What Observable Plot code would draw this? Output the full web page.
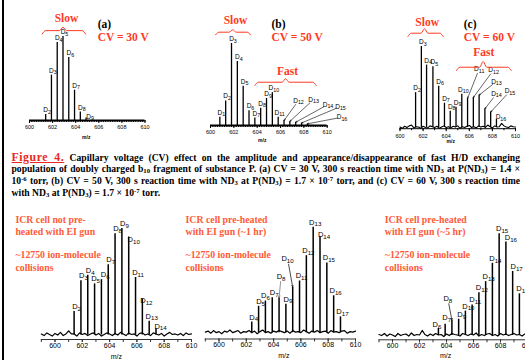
<!DOCTYPE html>
<html><head><meta charset="utf-8">
<script src="https://cdn.jsdelivr.net/npm/d3@7"></script>
<script src="https://cdn.jsdelivr.net/npm/@observablehq/plot@0.6"></script>
<style>
html,body{margin:0;padding:0;background:#fff;overflow:hidden;}
#page{position:relative;width:525px;height:360px;overflow:hidden;background:#fff;}
.panel{position:absolute;}
#border{position:absolute;left:2.4px;top:0;width:1.3px;height:360px;background:#000;}
#cap{position:absolute;left:11.5px;top:150.5px;width:508.5px;font-family:"Liberation Serif","Times New Roman",serif;font-weight:bold;font-size:9.65px;line-height:12px;color:#000;}
#cap .ln{text-align:justify;text-align-last:justify;white-space:nowrap;height:12px;}
#cap .ln.last{text-align-last:left;}
#cap sub{font-size:0.7em;line-height:0;vertical-align:-0.2em;}
#cap sup{font-size:0.7em;line-height:0;vertical-align:0.4em;}
#cap .fig{color:#e8281e;font-size:11.8px;letter-spacing:0.55px;text-decoration:underline;}
</style></head>
<body>
<div id="page">
<div id="border"></div>
<div id="cap">
<div class="ln"><span class="fig">Figure 4.</span> Capillary voltage (CV) effect on the amplitude and appearance/disappearance of fast H/D exchanging</div>
<div class="ln">population of doubly charged b<sub>10</sub> fragment of substance P. (a) CV = 30 V, 300 s reaction time with ND<sub>3</sub> at P(ND<sub>3</sub>) = 1.4 ×</div>
<div class="ln">10<sup>-6</sup> torr, (b) CV = 50 V, 300 s reaction time with ND<sub>3</sub> at P(ND<sub>3</sub>) = 1.7 × 10<sup>-7</sup> torr, and (c) CV = 60 V, 300 s reaction time</div>
<div class="ln last">with ND<sub>3</sub> at P(ND<sub>3</sub>) = 1.7 × 10<sup>-7</sup> torr.</div>
</div>
</div>
<script>
// ================= DATA =================
const tickLabels = [600, 602, 604, 606, 608, 610];
const unitTicks = [599, 600, 601, 602, 603, 604, 605, 606, 607, 608, 609, 610];
const axisTitle = "m/z";
const cvLabels = ["CV = 30 V", "CV = 50 V", "CV = 60 V"];
const panelTags = ["(a)", "(b)", "(c)"];
const groupLabels = ["Slow", "Fast"];
const noteD = ["ICR cell not pre-", "heated with EI gun", "~12750 ion-molecule", "collisions"];
const noteE = ["ICR cell pre-heated", "with EI gun (~1 hr)", "~12750 ion-molecule", "collisions"];
const noteF = ["ICR cell pre-heated", "with EI gun (~5 hr)", "~12750 ion-molecule", "collisions"];

// (a) CV = 30 V
const mzA  = [601.4, 601.9, 602.4, 602.9, 603.4, 603.9, 604.4, 604.9];
const intA = [7, 54, 93, 100, 75, 36, 10, 3];
const ionA = [2, 3, 4, 5, 6, 7, 8, 9];

// (b) CV = 50 V
const mzB  = [600.8, 601.3, 601.8, 602.3, 602.8, 603.3, 603.8, 604.3, 604.8, 605.3, 605.8, 606.3, 606.8, 607.3, 607.8, 608.3];
const intB = [10, 30, 100, 78, 48, 18, 9, 21, 33, 40, 10, 6, 5, 4, 3, 2];
const ionB = [1, 2, 3, 4, 5, 6, 7, 8, 9, 10, 11, 12, 13, 14, 15, 16];

// (c) CV = 60 V
const mzC  = [601.35, 601.85, 602.3, 602.85, 603.35, 603.85, 604.35, 604.85, 605.35, 605.85, 606.35, 606.85, 607.35, 607.85, 608.35];
const intC = [43, 100, 77, 75, 51, 30, 20, 25, 41, 36, 37, 40, 23, 19, 10];
const ionC = [2, 3, 4, 5, 6, 7, 8, 9, 10, 11, 12, 13, 14, 15, 16];
const noiseC = [0.5,-1,1.5,0,2,3,-0.5,1,0.5,-1,
  1.5,0,-0.5,2,1,0,1.5,-1,0.5,2,
  0,1,-0.5,1.5,0.5,2,-1,1,0,1.5,
  2.5,0,1,-0.5,2,0.5,1.5,0,3,1,
  -0.5,2,0.5,1,5,2,0.5,0,2,1,0.5];

// bottom left: not pre-heated
const mzD  = [601.4, 601.9, 602.4, 602.9, 603.4, 603.9, 604.4, 604.9, 605.4, 605.9, 606.4, 606.9, 607.4];
const intD = [22, 51, 56, 48, 52, 66, 95, 100, 92, 54, 34, 13, 6];
const ionD = [2, 3, 4, 5, 6, 7, 8, 9, 10, 11, 12, 13, 14];
const noiseD = [1,-0.5,2,0.5,-1,1.5,0,2.5,-0.5,1,
  4,1,1,-1,2,0.5,1.5,-0.5,1,2,
  0,1.5,-1,0.5,2,1,-0.5,1.5,0,2.5,
  1,-0.5,2,0.5,1,-1,1.5,2,0,1,
  -0.5,2,1,0,1.5,-1,1,2.5,0.5,1,
  0,1.5,-0.5,2,0.5,1];

// bottom middle: pre-heated ~1 hr
const mzE  = [602.4, 602.9, 603.4, 603.9, 604.4, 604.9, 605.4, 605.9, 606.4, 606.9, 607.4, 607.9, 608.4, 608.9];
const intE = [10, 25, 30, 33, 33, 27, 43, 49, 73, 100, 91, 66, 35, 15];
const ionE = [4, 5, 6, 7, 8, 9, 10, 11, 12, 13, 14, 15, 16, 17];
const noiseE = [0.5,1.5,-0.5,2,0,1,-1,1.5,0.5,2.5,
  0,1,2,-0.5,1,0.5,2,0,1.5,-1,
  1,2.5,0,1,-0.5,1.5,0.5,2,1,0,
  1.5,-0.5,2,0.5,1,0,2.5,1,-0.5,1.5,
  0.5,2,0,1,1.5,-0.5,2,0.5,1,0,
  1.5,2,-0.5,1,0.5,1.5];

// bottom right: pre-heated ~5 hr
const mzF  = [603.4, 603.9, 604.4, 604.9, 605.4, 605.9, 606.4, 606.9, 607.4, 607.9, 608.4, 608.9, 609.4];
const intF = [7, 11, 15, 16, 24, 30, 42, 53, 71, 100, 92, 63, 41];
const ionF = [6, 7, 8, 9, 10, 11, 12, 13, 14, 15, 16, 17, 18];
const noiseF = [1,0,2,-0.5,1.5,0.5,-1,2,0,1,
  1.5,-0.5,2.5,0,1,0.5,5,1,-0.5,1.5,
  0,2,0.5,1,-1,1.5,0,2,1,0.5,
  -0.5,2,1,0,1.5,0.5,2.5,-0.5,1,0,
  1.5,2,0,1,-0.5,2,0.5,1.5,0,1,
  2,0.5,1,-0.5,1.5,0.5];

// ================= HELPERS =================
const SANS = "'Liberation Sans', Arial, Helvetica, sans-serif";
const SERIF = "'Liberation Serif', 'Times New Roman', serif";
const RED = "#ff3a22", ORANGE = "#ff5a3a";
const dLabel = n => "D_" + n;
const peaks = (mz, it, ion) => mz.map((m, i) => ({mz: m, int: it[i], ion: ion[i]}));
const noise = (start, step, vals) => vals.map((v, i) => ({mz: +(start + i * step).toFixed(3), int: v}));

function txt(x, y, t, o = {}) {
  return Plot.text([{x, y, t}], {x: "x", y: "y", text: "t", fill: o.fill || "black",
    textAnchor: o.anchor || "start", fontSize: o.size || 11.5, fontFamily: SERIF, fontWeight: "bold"});
}
function brace(x0, x1, xm, yHook, yTop, yPeak, d) {
  const pts = [{x: x0, y: yHook}, {x: x0 + d, y: yTop}, {x: xm - d, y: yTop}, {x: xm, y: yPeak},
               {x: xm + d, y: yTop}, {x: x1 - d, y: yTop}, {x: x1, y: yHook}];
  return Plot.line(pts, {x: "x", y: "y", stroke: RED, strokeWidth: 1, curve: "monotone-x"});
}
function peakMarks(rows, o) {
  const skip = o.skip || [];
  const off = o.off || {};
  const marks = [Plot.ruleX(rows, {x: "mz", y1: () => 0, y2: "int", stroke: "black", strokeWidth: o.sw})];
  const plain = rows.filter(r => !skip.includes(r.ion) && !(r.ion in off));
  marks.push(Plot.text(plain, {x: "mz", y: "int", text: r => dLabel(r.ion), fontSize: o.fs, fontFamily: SANS,
    fill: "black", dx: o.dx, dy: o.dy, lineAnchor: "middle"}));
  for (const k of Object.keys(off)) {
    const r = rows.filter(r => r.ion === +k);
    marks.push(Plot.text(r, {x: "mz", y: "int", text: r => dLabel(r.ion), fontSize: o.fs, fontFamily: SANS,
      fill: "black", dx: off[k][0], dy: off[k][1], lineAnchor: "middle"}));
  }
  return marks;
}
function leaders(rows, list, o) {
  const byIon = new Map(rows.map(r => [r.ion, r]));
  const data = list.map(l => ({...l, px: byIon.get(l.ion).mz, py: byIon.get(l.ion).int}));
  return [
    Plot.arrow(data, {x1: "x", y1: "y", x2: "px", y2: "py", stroke: o.stroke || "black", strokeWidth: o.sw || 0.6,
      headLength: o.head || 3, insetStart: o.inset || 4, insetEnd: 0.5}),
    Plot.text(data, {x: "x", y: "y", text: d => dLabel(d.ion), fontSize: o.fs, fontFamily: SANS, fill: "black", lineAnchor: "middle"})
  ];
}
function topAxis(minor) {
  return [
    Plot.axisX(minor, {tickSize: 2, tickFormat: () => "", label: null}),
    Plot.axisX(tickLabels, {tickSize: 3, tickPadding: 2, fontSize: 5.5, fontFamily: SANS, label: null, tickFormat: d => String(d)})
  ];
}
function bottomAxis(ymin) {
  return [
    Plot.ruleY([ymin], {stroke: "#333", strokeWidth: 1}),
    Plot.axisX(unitTicks, {tickSize: 3, tickFormat: () => "", label: null, stroke: "#333"}),
    Plot.axisX(tickLabels, {tickSize: 3, tickPadding: 0.5, fontSize: 7, fontFamily: SANS, label: null, tickFormat: d => String(d), stroke: "#333"})
  ];
}
function mzTitle(dx, dy, size, weight) {
  return Plot.text([axisTitle], {text: d => d, frameAnchor: "bottom", dx, dy, fontSize: size, fontFamily: SANS, fontWeight: weight, fill: "black"});
}
function notes(lines, x, ys) {
  return lines.map((t, i) => txt(x, ys[i], t, {fill: ORANGE, size: 9.8}));
}
// turn "D_12" into D with a real subscript tspan
function subscriptify(svg) {
  svg.querySelectorAll("text").forEach(t => {
    const m = /^D_(\d+)$/.exec(t.textContent);
    if (!m) return;
    t.textContent = "D";
    const ts = document.createElementNS("http://www.w3.org/2000/svg", "tspan");
    ts.setAttribute("dy", "0.3em");
    ts.setAttribute("font-size", "0.82em");
    ts.textContent = m[1];
    t.appendChild(ts);
  });
}
function makePanel(c) {
  const svg = Plot.plot({
    width: c.width, height: c.height,
    marginLeft: c.xPx[0] - c.left, marginRight: c.left + c.width - c.xPx[1],
    marginTop: c.yPx[1] - c.top, marginBottom: c.top + c.height - c.yPx[0],
    x: {domain: c.xDomain, axis: null}, y: {domain: c.yDomain, axis: null},
    style: {background: "transparent", overflow: "visible", fontFamily: SANS, color: "black"},
    marks: c.marks.flat()
  });
  subscriptify(svg);
  const div = document.createElement("div");
  div.className = "panel";
  Object.assign(div.style, {left: c.left + "px", top: c.top + "px", width: c.width + "px", height: c.height + "px"});
  div.appendChild(svg);
  document.getElementById("page").appendChild(div);
}

// ================= PANELS =================
const rA = peaks(mzA, intA, ionA);
makePanel({left: 0, top: 0, width: 175, height: 145, xDomain: [600, 610], xPx: [29, 144.5], yDomain: [0, 100], yPx: [120, 36],
  marks: [
    topAxis(d3.range(600, 610.001, 0.2)),
    Plot.ruleY([0], {stroke: "black", strokeWidth: 2}),
    peakMarks(rA, {sw: 1.3, fs: 6.5, dx: 1.5, dy: -4.5, off: {9: [4, -1.5]}}),
    brace(601.1, 604.85, 602.9, 103, 107, 111, 0.3),
    txt(603.2, 122, groupLabels[0], {fill: RED, anchor: "middle"}),
    txt(605.9, 114.3, panelTags[0]),
    txt(605.9, 98.8, cvLabels[0], {fill: RED}),
    mzTitle(-1, 18, 5, "bold")
  ]});

const rB = peaks(mzB, intB, ionB);
makePanel({left: 175, top: 0, width: 180, height: 150, xDomain: [600, 610], xPx: [210, 326.7], yDomain: [0, 100], yPx: [125, 43],
  marks: [
    topAxis(d3.range(600, 610.001, 0.2)),
    Plot.ruleY([0], {stroke: "black", strokeWidth: 2}),
    peakMarks(rB, {sw: 1.3, fs: 6.5, dx: 1.5, dy: -4.5, skip: [12, 13, 14, 15, 16]}),
    leaders(rB, [{ion: 12, x: 607.54, y: 30.5}, {ion: 13, x: 608.83, y: 31.7}, {ion: 14, x: 610.07, y: 25.6},
                 {ion: 15, x: 611.14, y: 23.2}, {ion: 16, x: 611.27, y: 10.1}], {fs: 6.5, sw: 0.6, head: 2.5, inset: 5}),
    brace(600.43, 603.43, 601.9, 110.6, 113.8, 116.7, 0.3),
    txt(602.14, 128, groupLabels[0], {fill: RED, anchor: "middle"}),
    brace(603.8, 609.06, 606.43, 48.8, 52.8, 57, 0.3),
    txt(606.6, 65.9, groupLabels[1], {fill: RED, anchor: "middle"}),
    txt(605.23, 123, panelTags[1]),
    txt(605.23, 107.3, cvLabels[1], {fill: RED}),
    mzTitle(-6.6, 16.7, 5, "bold")
  ]});

const rC = peaks(mzC, intC, ionC);
makePanel({left: 355, top: 0, width: 170, height: 150, xDomain: [600, 610], xPx: [399.5, 515], yDomain: [-1.5, 100], yPx: [128.2, 46],
  marks: [
    Plot.ruleY([-1.5], {stroke: "black", strokeWidth: 1}),
    topAxis(d3.range(600, 610.001, 1)),
    Plot.line(noise(600, 0.2, noiseC), {x: "mz", y: "int", stroke: "black", strokeWidth: 1.1}),
    peakMarks(rC, {sw: 1.3, fs: 6.5, dx: 1.5, dy: -4.5, skip: [11, 12, 13, 14, 15], off: {16: [4.5, -2]}}),
    leaders(rC, [{ion: 11, x: 606.86, y: 72.4}, {ion: 12, x: 608.11, y: 71.2}, {ion: 13, x: 608.35, y: 56.8},
                 {ion: 14, x: 608.35, y: 41.6}, {ion: 15, x: 609.52, y: 44.8}], {fs: 6.5, sw: 0.6, head: 2.5, inset: 5}),
    brace(600.68, 603.74, 602.12, 112.3, 116.4, 121.8, 0.3),
    txt(602.35, 129.6, groupLabels[0], {fill: RED, anchor: "middle"}),
    brace(604.89, 609.63, 607.2, 70.4, 74.4, 81.5, 0.3),
    txt(607.26, 92.6, groupLabels[1], {fill: RED, anchor: "middle"}),
    txt(605.52, 127, panelTags[2]),
    txt(605.52, 111, cvLabels[2], {fill: RED}),
    mzTitle(-7, 14.5, 5, "bold")
  ]});

const rD = peaks(mzD, intD, ionD);
makePanel({left: 0, top: 205, width: 200, height: 155, xDomain: [599, 610], xPx: [40.85, 191], yDomain: [-4.2, 100], yPx: [339, 228],
  marks: [
    bottomAxis(-4.2),
    Plot.line(noise(599, 0.2, noiseD), {x: "mz", y: "int", stroke: "black", strokeWidth: 1.2}),
    peakMarks(rD, {sw: 1.5, fs: 7.5, dx: 2.5, dy: -5, off: {5: [1, -5], 6: [3.8, -5], 10: [5, 3], 12: [4, 2], 14: [4.5, -2.5]}}),
    notes(noteD, 597.1, [108.5, 97.2, 75.6, 63.4]),
    mzTitle(0, 19, 7, "normal")
  ]});

const rE = peaks(mzE, intE, ionE);
makePanel({left: 180, top: 205, width: 185, height: 155, xDomain: [599, 610], xPx: [204.85, 355], yDomain: [-6, 100], yPx: [338.5, 226.7],
  marks: [
    bottomAxis(-6),
    Plot.line(noise(599, 0.2, noiseE), {x: "mz", y: "int", stroke: "black", strokeWidth: 1.2}),
    peakMarks(rE, {sw: 1.5, fs: 7.5, dx: 2, dy: -5, skip: [8, 10], off: {6: [0, -5], 14: [4, -2]}}),
    leaders(rE, [{ion: 10, x: 605.02, y: 70.5}], {fs: 7.5, sw: 0.7, head: 3, inset: 6}),
    leaders(rE, [{ion: 8, x: 604.55, y: 53.2}], {fs: 7.5, sw: 0.8, head: 3, inset: 5, stroke: "#777"}),
    notes(noteE, 597.55, [107.3, 95.9, 74.1, 61.8]),
    mzTitle(3.4, 18.5, 7, "normal")
  ]});

const rF = peaks(mzF, intF, ionF);
makePanel({left: 365, top: 205, width: 165, height: 155, xDomain: [599, 610], xPx: [378.5, 527], yDomain: [-4.2, 100], yPx: [339.3, 233.3],
  marks: [
    bottomAxis(-4.2),
    Plot.line(noise(599, 0.2, noiseF), {x: "mz", y: "int", stroke: "black", strokeWidth: 1.2}),
    peakMarks(rF, {sw: 1.5, fs: 7.5, dx: 3, dy: -5, skip: [8], off: {6: [-1.5, -4], 7: [1.5, -7], 16: [5, -4.5], 17: [4, -4.5]}}),
    leaders(rF, [{ion: 8, x: 604.1, y: 36.1}], {fs: 7.5, sw: 0.7, head: 3, inset: 5}),
    notes(noteF, 599.43, [114.1, 102.3, 79.7, 66.9]),
    mzTitle(-7.7, 18.5, 7, "normal")
  ]});
</script>
</body></html>
